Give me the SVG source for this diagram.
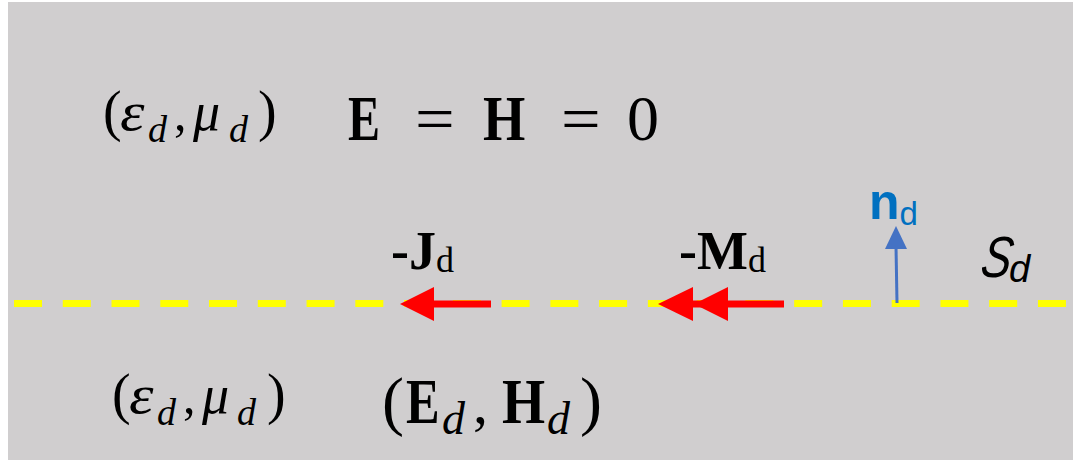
<svg xmlns="http://www.w3.org/2000/svg" width="1073" height="460" viewBox="0 0 1073 460">
  <style>
    .m { font-family: "Liberation Serif", "Times New Roman", serif; fill: #000; }
    .it { font-style: italic; }
    .bd { font-weight: bold; }
    .red { fill: #FF0000; }
    .lbl { font-family: "Liberation Serif", "Times New Roman", serif; font-weight: bold; font-size: 54px; fill: #000; }
    .sub { font-weight: normal; font-size: 36px; }
    .sans { font-family: "Liberation Sans", Arial, sans-serif; }
  </style>
  <rect x="0" y="0" width="1073" height="460" fill="#FFFFFF"/>
  <rect id="background" x="8" y="2" width="1065" height="458" fill="#D0CECF"/>

  <g id="surface">
    <line x1="14" y1="303.5" x2="1073" y2="303.5" stroke="#FFFF00" stroke-width="7" stroke-dasharray="28 20.76"/>
  </g>

  <g id="top-medium">
    <text class="m" x="103" y="130" font-size="56">(</text>
    <text class="m it" transform="translate(120,130) scale(1.15,1)" font-size="54">ε</text>
    <text class="m it" x="148" y="142" font-size="38">d</text>
    <text class="m" x="174" y="130" font-size="50">,</text>
    <text class="m it" x="193" y="130" font-size="54">μ</text>
    <text class="m it" x="229" y="142" font-size="38">d</text>
    <text class="m" x="258" y="130" font-size="56">)</text>
  </g>

  <g id="top-fields">
    <text class="m bd" transform="translate(348,140) scale(0.75,1)" font-size="64">E</text>
    <text class="m" transform="translate(415,140) scale(1.1,1)" font-size="64">=</text>
    <text class="m bd" transform="translate(483,140) scale(0.85,1)" font-size="64">H</text>
    <text class="m" transform="translate(561,140) scale(1.1,1)" font-size="64">=</text>
    <text class="m" x="627" y="140" font-size="64">0</text>
  </g>

  <g id="bottom-medium">
    <text class="m" x="112" y="413" font-size="56">(</text>
    <text class="m it" transform="translate(129,413) scale(1.15,1)" font-size="54">ε</text>
    <text class="m it" x="157" y="425" font-size="38">d</text>
    <text class="m" x="183" y="413" font-size="50">,</text>
    <text class="m it" x="202" y="413" font-size="54">μ</text>
    <text class="m it" x="237" y="425" font-size="38">d</text>
    <text class="m" x="267" y="413" font-size="56">)</text>
  </g>

  <g id="bottom-fields">
    <text class="m" x="382" y="423" font-size="66">(</text>
    <text class="m bd" transform="translate(406,423) scale(0.8,1)" font-size="63">E</text>
    <text class="m it" x="442" y="434" font-size="46">d</text>
    <text class="m" x="473" y="423" font-size="60">,</text>
    <text class="m bd" transform="translate(502,423) scale(0.88,1)" font-size="63">H</text>
    <text class="m it" x="547" y="434" font-size="46">d</text>
    <text class="m" x="580" y="423" font-size="66">)</text>
  </g>

  <g id="label-J">
    <text class="lbl" x="391" y="269">-J<tspan class="sub" dy="3">d</tspan></text>
  </g>

  <g id="label-M">
    <text class="lbl" x="679" y="269">-M<tspan class="sub" dy="3">d</tspan></text>
  </g>

  <g id="label-n">
    <text class="sans" x="869" y="219" font-weight="bold" font-size="50" fill="#0070C0">n<tspan font-weight="normal" font-size="33" dy="6">d</tspan></text>
  </g>

  <g id="label-S">
    <text class="sans" transform="translate(979,277) skewX(-10) scale(0.78,1)" font-style="italic" font-size="58" fill="#000">S</text>
    <text class="sans" x="1009" y="282" font-style="italic" font-size="38" fill="#000">d</text>
  </g>

  <g id="connectors">
    <g id="arrow-J">
      <rect class="red" x="432" y="300.5" width="59" height="7"/>
      <polygon class="red" points="400,304 434,287 434,321"/>
    </g>
    <g id="arrow-M">
      <rect class="red" x="692" y="300.5" width="92" height="7"/>
      <polygon class="red" points="658,304 693,287 693,321"/>
      <polygon class="red" points="694,304 728,287 728,321"/>
    </g>
    <g id="arrow-n">
      <line x1="897" y1="303" x2="896" y2="246" stroke="#4472C4" stroke-width="3"/>
      <polygon points="896,226 885,249 907,249" fill="#4472C4"/>
    </g>
  </g>
</svg>
